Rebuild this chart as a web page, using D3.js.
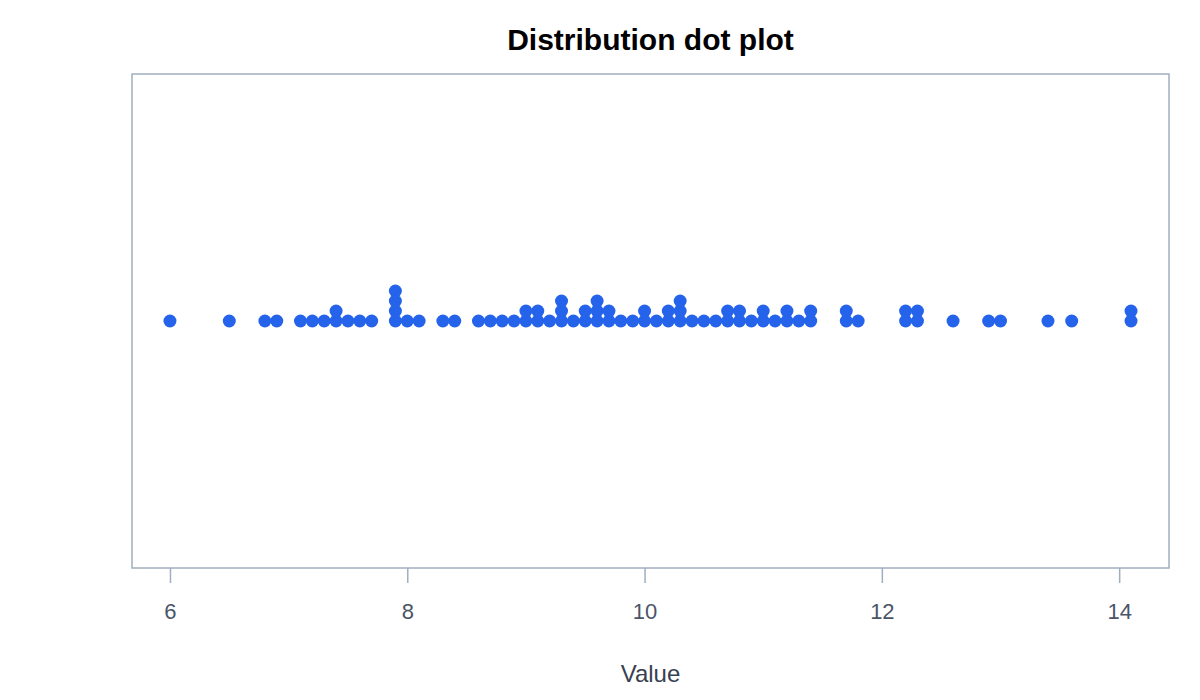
<!DOCTYPE html>
<html lang='en'>
    <head>
        <meta charset='utf-8'>
        <title>Distribution dot plot</title>
        <script src="https://d3js.org/d3.v7.min.js" charset='utf-8'></script>
        <style type='text/css'>
            body {
                margin: 0;
                background: #fff;
            }
            svg {
                display: block;
                font-family: 'Liberation Sans', Arial, Helvetica, sans-serif;
            }
            .tick text {
                fill: #4a5568;
                font-size: 22px;
            }
            .tick line {
                stroke: #a0aec0;
            }
        </style>
    </head>
    <body>
        <script type='text/javascript'>
            // observed values, one entry per dot
            var values = [
                6.0, 6.5, 6.8, 6.9, 7.1, 7.2, 7.3, 7.4, 7.4, 7.5, 7.6, 7.7,
                7.9, 7.9, 7.9, 7.9, 8.0, 8.1, 8.3, 8.4, 8.6, 8.7, 8.8, 8.9,
                9.0, 9.0, 9.1, 9.1, 9.2, 9.3, 9.3, 9.3, 9.4, 9.5, 9.5,
                9.6, 9.6, 9.6, 9.7, 9.7, 9.8, 9.9, 10.0, 10.0, 10.1,
                10.2, 10.2, 10.3, 10.3, 10.3, 10.4, 10.5, 10.6, 10.7, 10.7,
                10.8, 10.8, 10.9, 11.0, 11.0, 11.1, 11.2, 11.2, 11.3, 11.4, 11.4,
                11.7, 11.7, 11.8, 12.2, 12.2, 12.3, 12.3, 12.6, 12.9, 13.0,
                13.4, 13.6, 14.1, 14.1
            ];
            var xTicks = [6, 8, 10, 12, 14];

            var W = 1200, H = 700;
            var margin = {top: 74, right: 31, bottom: 132, left: 132};
            var width = W - margin.left - margin.right;
            var height = H - margin.top - margin.bottom;

            var svg = d3.select('body')
                .append('svg')
                .attr('width', W)
                .attr('height', H);

            var g = svg.append('g')
                .attr('transform', 'translate(' + margin.left + ',' + margin.top + ')');

            var pad = 0.32;
            var x = d3.scaleLinear()
                .domain([d3.min(values) - pad, d3.max(values) + pad])
                .range([0, width]);

            // stack index -> vertical position, 10px per dot
            var y = d3.scaleLinear()
                .domain([-height / 20, height / 20])
                .range([height, 0]);

            // stack duplicate values
            var seen = {};
            var dots = values.map(function(v) {
                var k = v.toFixed(1);
                seen[k] = (seen[k] || 0) + 1;
                return {value: v, level: seen[k] - 1};
            });

            g.append('rect')
                .attr('x', 0)
                .attr('y', 0)
                .attr('width', width)
                .attr('height', height)
                .attr('fill', 'none')
                .attr('stroke', '#a0aec0')
                .attr('stroke-width', 1.5);

            var axis = g.append('g')
                .attr('transform', 'translate(0,' + height + ')')
                .call(d3.axisBottom(x).tickValues(xTicks).tickSize(15).tickPadding(20).tickFormat(d3.format('d')));
            axis.select('.domain').remove();
            axis.selectAll('.tick line').attr('stroke-width', 1.5);

            g.selectAll('circle.dot')
                .data(dots)
                .enter()
                .append('circle')
                .attr('class', 'dot')
                .attr('cx', function(d) { return x(d.value); })
                .attr('cy', function(d) { return y(d.level); })
                .attr('r', 6.5)
                .attr('fill', '#2563eb');

            svg.append('text')
                .attr('x', margin.left + width / 2)
                .attr('y', 50)
                .attr('text-anchor', 'middle')
                .attr('font-size', 30)
                .attr('font-weight', 'bold')
                .attr('fill', '#000')
                .text('Distribution dot plot');

            svg.append('text')
                .attr('x', margin.left + width / 2)
                .attr('y', 682)
                .attr('text-anchor', 'middle')
                .attr('font-size', 24)
                .attr('fill', '#374151')
                .text('Value');
        </script>
    </body>
</html>
